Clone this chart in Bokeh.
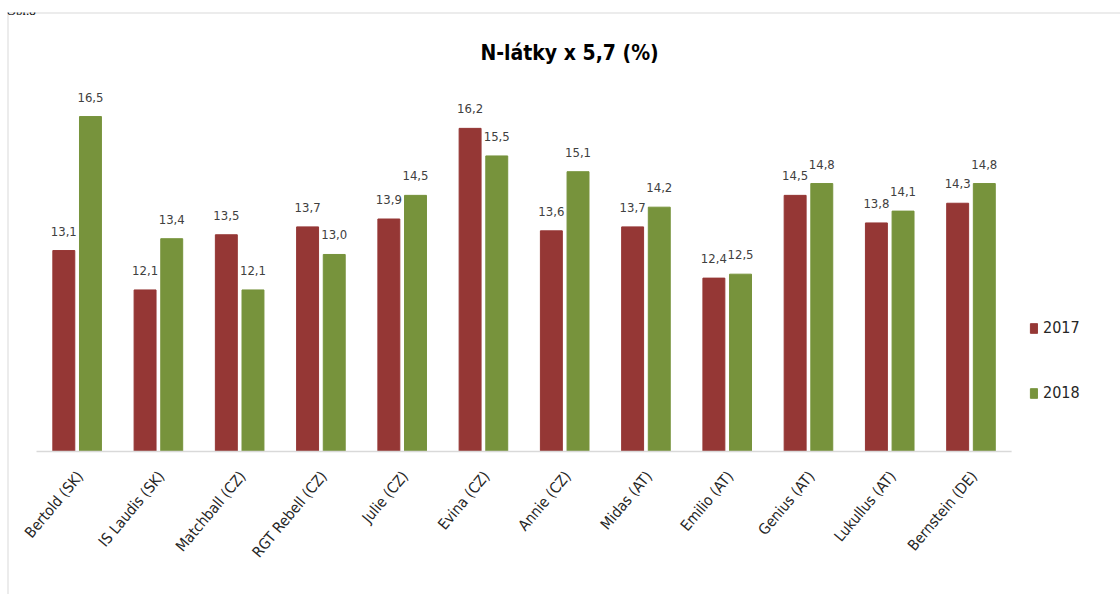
import math
from bokeh.plotting import figure
from bokeh.models import ColumnDataSource, Label, Legend, LegendItem, LabelSet, Range1d, Span
from bokeh.core.properties import value
from bokeh.embed import file_html
from bokeh.resources import INLINE

categories = ["Bertold (SK)", "IS Laudis (SK)", "Matchball (CZ)", "RGT Rebell (CZ)", "Julie (CZ)",
              "Evina (CZ)", "Annie (CZ)", "Midas (AT)", "Emilio (AT)", "Genius (AT)",
              "Lukullus (AT)", "Bernstein (DE)"]
values_2017 = [13.1, 12.1, 13.5, 13.7, 13.9, 16.2, 13.6, 13.7, 12.4, 14.5, 13.8, 14.3]
values_2018 = [16.5, 13.4, 12.1, 13.0, 14.5, 15.5, 15.1, 14.2, 12.5, 14.8, 14.1, 14.8]
series_names = ["2017", "2018"]
title_text = "N-látky x 5,7 (%)"
caption_text = "Obr.8"
y_base = 8.0

RED = "#953735"
GREEN = "#77933C"
FONT = "DejaVu Sans Condensed"

n = len(categories)
centers = [i + 0.5 for i in range(n)]
off = 0.164
bw = 0.27

def fmt(v):
    return f"{v:.1f}".replace(".", ",")

src17 = ColumnDataSource(dict(x=[c - off for c in centers], top=values_2017,
                              lab=[fmt(v) for v in values_2017]))
src18 = ColumnDataSource(dict(x=[c + off for c in centers], top=values_2018,
                              lab=[fmt(v) for v in values_2018]))
srccat = ColumnDataSource(dict(x=centers, y=[y_base] * n, name=categories))

xr = Range1d(-0.357, 13.34)
yr = Range1d(4.372, 19.14)
p = figure(width=1120, height=594, output_backend="svg", toolbar_location=None,
           x_range=xr, y_range=yr,
           x_axis_location=None, y_axis_location=None,
           min_border_left=7, min_border_right=0, min_border_top=12, min_border_bottom=0)
p.outline_line_color = None
p.xgrid.visible = False
p.ygrid.visible = False

# outer chart box (left and top edges)
p.add_layout(Span(location=xr.start, dimension="height", line_color="#d9d9d9", line_width=2))
p.add_layout(Span(location=yr.end, dimension="width", line_color="#d9d9d9", line_width=2))

r17 = p.vbar(x="x", top="top", bottom=y_base, width=bw, source=src17, fill_color=RED, line_color=RED)
r18 = p.vbar(x="x", top="top", bottom=y_base, width=bw, source=src18, fill_color=GREEN, line_color=GREEN)

# category axis baseline
p.segment(x0=[0], x1=[n], y0=[y_base], y1=[y_base], line_color="#d9d9d9", line_width=1.5)

# category labels, rotated
p.text(x="x", y="y", text="name", source=srccat, angle=math.radians(50), text_align="right",
       text_baseline="middle", x_offset=3, y_offset=22, text_font=value(FONT),
       text_font_size="15px", text_color="#262626")

for s in (src17, src18):
    p.add_layout(LabelSet(x="x", y="top", text="lab", source=s, text_align="center",
                          text_baseline="bottom", y_offset=15, text_font=value(FONT),
                          text_font_size="13px", text_color="#404040"))

p.add_layout(Label(x=6.56, y=18.12, text=title_text, text_align="center", text_baseline="middle",
                   text_font=FONT, text_font_style="bold", text_font_size="21px",
                   text_color="#000000"))

p.add_layout(Label(x=-0.369, y=19.19, text=caption_text, text_align="left",
                   text_baseline="alphabetic", text_font="Liberation Serif",
                   text_font_size="13px", text_color="#000000"))

legend = Legend(items=[LegendItem(label=series_names[0], renderers=[r17]),
                       LegendItem(label=series_names[1], renderers=[r18])],
                location=(1022, 192), orientation="vertical")
legend.border_line_color = None
legend.background_fill_alpha = 0
legend.glyph_width = 9
legend.glyph_height = 12
legend.spacing = 46
legend.label_text_font = FONT
legend.label_text_font_size = "16px"
legend.label_text_color = "#262626"
legend.label_standoff = 5
p.add_layout(legend)

open("out.html", "w").write(file_html(p, INLINE))
